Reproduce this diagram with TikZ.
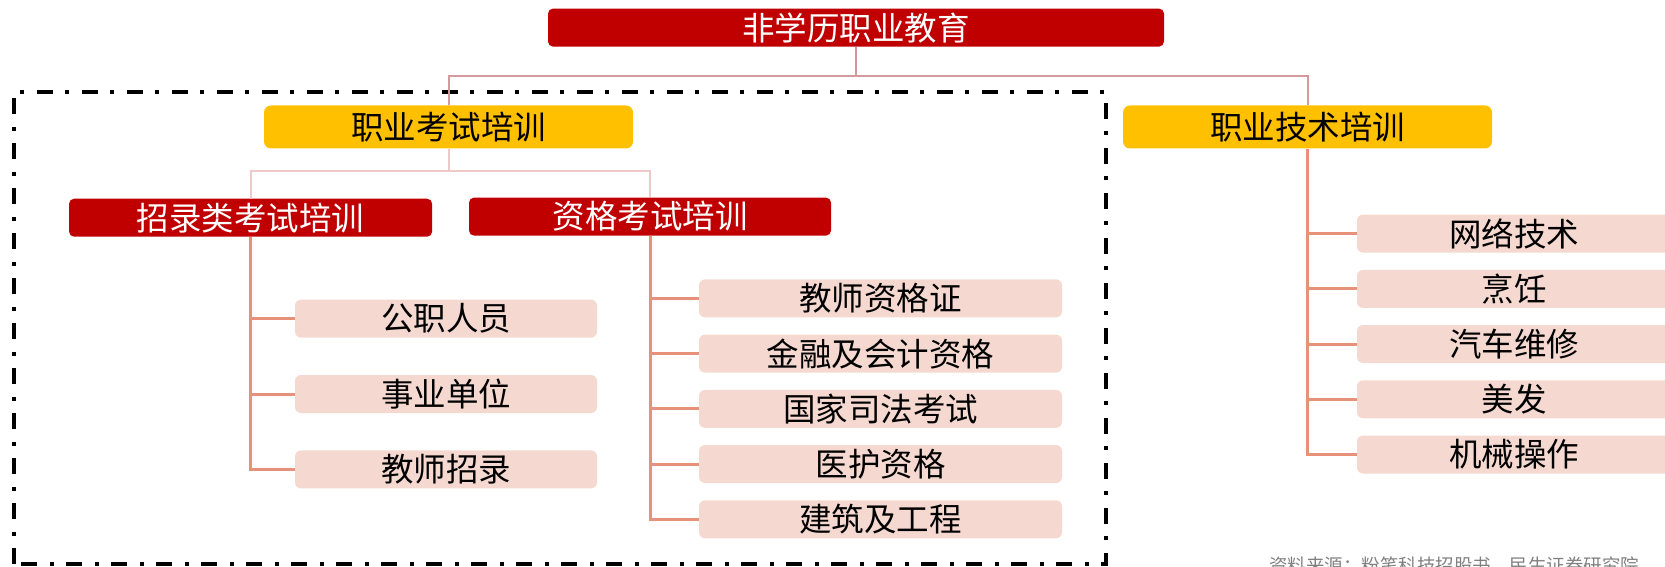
\documentclass[tikz,border=0pt]{standalone}
\usepackage{fontspec}
\setmainfont{Noto Sans CJK SC}
\definecolor{myred}{HTML}{C00000}
\definecolor{myyellow}{HTML}{FFC000}
\definecolor{leafpink}{HTML}{F5D9D1}
\definecolor{lineA}{HTML}{D4999C}
\definecolor{lineB}{HTML}{EFC8C8}
\definecolor{lineC}{HTML}{E8917A}
\definecolor{srcgray}{HTML}{808080}
\begin{document}
\begin{tikzpicture}[x=1pt,y=-1pt,
  basebox/.style={rounded corners=5pt, minimum height=38pt, inner sep=0pt, anchor=center, font=\fontsize{32.5}{32.5}\selectfont},
  redbox/.style={basebox, fill=myred, text=white},
  yellowbox/.style={basebox, fill=myyellow, text=black, minimum height=43pt, minimum width=369pt, rounded corners=7pt},
  leafbox/.style={basebox, fill=leafpink, text=black, rounded corners=6pt},
  conA/.style={draw=lineA, line width=2pt},
  conB/.style={draw=lineB, line width=2pt},
  conC/.style={draw=lineC, line width=3pt},
  groupframe/.style={draw=black, line width=4pt, dash pattern=on 16pt off 12pt on 4pt off 13pt}
]
\useasboundingbox (0,0) rectangle (1665,567);
\clip (0,0) rectangle (1665,567);

% top
\node[redbox, minimum width=616pt] (top) at (856,27.6) {非学历职业教育};
\coordinate (j1) at (856,76.5);

% frame
\draw[groupframe] (14,564) -- (14,92) -- (1106,92) -- (1106,564) -- cycle;

% second level
\node[yellowbox] (ks) at (448.5,127) {职业考试培训};
\node[yellowbox] (js) at (1307.5,127) {职业技术培训};

\draw[conA] (top.south) -- (j1);
\draw[conA] (ks.north) -- (ks.north |- j1) -| (js.north);

% third level
\node[redbox, minimum width=363pt] (zl) at (250.6,217.7) {招录类考试培训};
\node[redbox, minimum width=362pt] (zg) at (650,216.6) {资格考试培训};
\coordinate (j2) at (448.5,171);
\draw[conB] (ks.south) -- (j2);
\draw[conB] (zl.north) -- (zl.north |- j2) -| (zg.north);

% leaves left
\node[leafbox, minimum width=302pt] (a1) at (446,318.6) {公职人员};
\node[leafbox, minimum width=302pt] (a2) at (446,394) {事业单位};
\node[leafbox, minimum width=302pt] (a3) at (446,469.4) {教师招录};
\draw[conC] (zl.south) |- (a3.west);
\draw[conC] (zl.south |- a1.west) -- (a1.west);
\draw[conC] (zl.south |- a2.west) -- (a2.west);

% leaves middle
\node[leafbox, minimum width=363pt] (b1) at (880.5,298.4) {教师资格证};
\node[leafbox, minimum width=363pt] (b2) at (880.5,353.6) {金融及会计资格};
\node[leafbox, minimum width=363pt] (b3) at (880.5,408.9) {国家司法考试};
\node[leafbox, minimum width=363pt] (b4) at (880.5,464) {医护资格};
\node[leafbox, minimum width=363pt] (b5) at (880.5,519.3) {建筑及工程};
\draw[conC] (zg.south) |- (b5.west);
\draw[conC] (zg.south |- b1.west) -- (b1.west);
\draw[conC] (zg.south |- b2.west) -- (b2.west);
\draw[conC] (zg.south |- b3.west) -- (b3.west);
\draw[conC] (zg.south |- b4.west) -- (b4.west);

% leaves right
\node[leafbox, minimum width=314pt] (c1) at (1514,233.6) {网络技术};
\node[leafbox, minimum width=314pt] (c2) at (1514,288.9) {烹饪};
\node[leafbox, minimum width=314pt] (c3) at (1514,344) {汽车维修};
\node[leafbox, minimum width=314pt] (c4) at (1514,399.3) {美发};
\node[leafbox, minimum width=314pt] (c5) at (1514,454.5) {机械操作};
\draw[conC] (js.south) |- (c5.west);
\draw[conC] (js.south |- c1.west) -- (c1.west);
\draw[conC] (js.south |- c2.west) -- (c2.west);
\draw[conC] (js.south |- c3.west) -- (c3.west);
\draw[conC] (js.south |- c4.west) -- (c4.west);

% source
\node[anchor=north west, inner sep=0pt, text=srcgray, font=\fontsize{18.5}{18.5}\selectfont] (src) at (1269,557) {资料来源：粉笔科技招股书，民生证券研究院};
\end{tikzpicture}
\end{document}
